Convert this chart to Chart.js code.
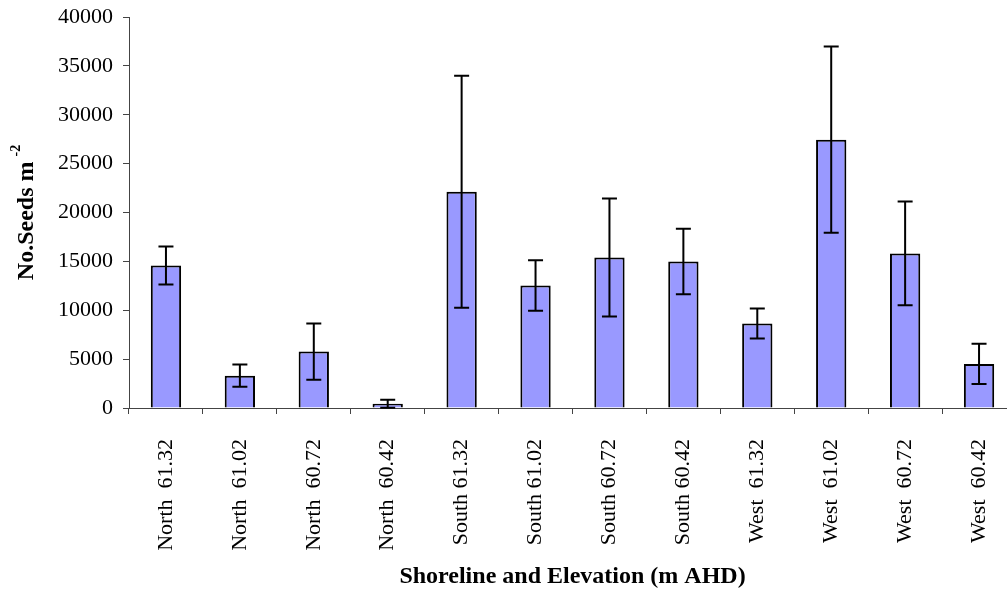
<!DOCTYPE html>
<html>
<head>
<meta charset="utf-8">
<title>Seed density by shoreline and elevation</title>
<script src="https://cdn.jsdelivr.net/npm/chart.js@4/dist/chart.umd.min.js"></script>
<style>
  html, body { margin: 0; padding: 0; background: #fff; overflow: hidden; }
  #wrap { position: absolute; left: 0; top: 0; }
</style>
</head>
<body>
<div id="wrap"><canvas id="seedChart" width="1016" height="592"></canvas></div>
<script>
// shoreline + elevation (m AHD) for each sample group
const categories = [
  "North  61.32", "North  61.02", "North  60.72", "North  60.42",
  "South 61.32", "South 61.02", "South 60.72", "South 60.42",
  "West  61.32", "West  61.02", "West  60.72", "West  60.42"
];

// mean seeds per square metre
const seedMeans = [14580, 3310, 5770, 440, 22120, 12530, 15400, 14990, 8640, 27450, 15810, 4510];

// error bar half-lengths (+/-)
const seedErrors = [1945, 1130, 2870, 410, 11870, 2580, 6040, 3360, 1540, 9530, 5310, 2065];

const yTicks = { min: 0, max: 40000, step: 5000 };

// draws the +/- whiskers on top of each bar
const errorBars = {
  id: "errorBars",
  afterDatasetsDraw(chart) {
    const ctx = chart.ctx;
    const y = chart.scales.y;
    const bars = chart.getDatasetMeta(0).data;
    ctx.save();
    ctx.strokeStyle = "#000";
    ctx.lineWidth = 2;
    for (let i = 0; i < bars.length; i++) {
      const x = bars[i].x;
      const hi = y.getPixelForValue(seedMeans[i] + seedErrors[i]);
      const lo = y.getPixelForValue(Math.max(0, seedMeans[i] - seedErrors[i]));
      const cap = 7.5;
      ctx.beginPath();
      ctx.moveTo(x, hi);
      ctx.lineTo(x, lo);
      ctx.moveTo(x - cap, hi);
      ctx.lineTo(x + cap, hi);
      ctx.moveTo(x - cap, lo);
      ctx.lineTo(x + cap, lo);
      ctx.stroke();
    }
    ctx.restore();
  }
};

// y axis title with the superscript -2
const yTitle = {
  id: "yTitle",
  afterDraw(chart) {
    const ctx = chart.ctx;
    const area = chart.chartArea;
    const main = "No.Seeds m";
    const sup = "-2";
    ctx.save();
    ctx.fillStyle = "#000";
    ctx.textBaseline = "alphabetic";
    ctx.font = "bold 24px 'Liberation Serif'";
    const w1 = ctx.measureText(main).width;
    ctx.font = "bold 14px 'Liberation Serif'";
    const w2 = ctx.measureText(sup).width;
    const gap = 5;
    const total = w1 + gap + w2;
    const cy = (area.top + area.bottom) / 2;
    ctx.translate(33, cy + total / 2);
    ctx.rotate(-Math.PI / 2);
    ctx.font = "bold 24px 'Liberation Serif'";
    ctx.fillText(main, 0, 0);
    ctx.font = "bold 14px 'Liberation Serif'";
    ctx.fillText(sup, w1 + gap, -13);
    ctx.restore();
  }
};

const ctx = document.getElementById("seedChart").getContext("2d");

new Chart(ctx, {
  type: "bar",
  data: {
    labels: categories,
    datasets: [{
      data: seedMeans,
      backgroundColor: "#9999ff",
      borderColor: "#000",
      borderWidth: 2,
      barPercentage: 0.41,
      categoryPercentage: 1
    }]
  },
  options: {
    responsive: false,
    animation: false,
    devicePixelRatio: 1,
    layout: { padding: { top: 17, right: 0, bottom: 0, left: 0 } },
    plugins: {
      legend: { display: false },
      tooltip: { enabled: false }
    },
    scales: {
      x: {
        afterFit(scale) {
          scale.height = 184;
          scale.paddingLeft = 0;
          scale.paddingRight = 0;
        },
        grid: { drawOnChartArea: false, tickLength: 6, color: "#444", lineWidth: 1 },
        border: { color: "#444", width: 1 },
        ticks: {
          color: "#000",
          font: { family: "'Liberation Serif'", size: 22 },
          minRotation: 90,
          maxRotation: 90,
          autoSkip: false,
          padding: 25
        },
        title: {
          display: true,
          text: "Shoreline and Elevation (m AHD)",
          color: "#000",
          font: { family: "'Liberation Serif'", size: 24, weight: "bold" },
          padding: { top: 0, bottom: 1 }
        }
      },
      y: {
        min: yTicks.min,
        max: yTicks.max,
        afterFit(scale) {
          scale.width = 129;
          scale.paddingTop = 0;
          scale.paddingBottom = 0;
        },
        grid: { drawOnChartArea: false, tickLength: 6, color: "#444", lineWidth: 1 },
        border: { color: "#444", width: 1 },
        ticks: {
          stepSize: yTicks.step,
          color: "#000",
          font: { family: "'Liberation Serif'", size: 22 },
          padding: 10,
          callback: (value) => String(value)
        }
      }
    }
  },
  plugins: [errorBars, yTitle]
});
</script>
</body>
</html>
